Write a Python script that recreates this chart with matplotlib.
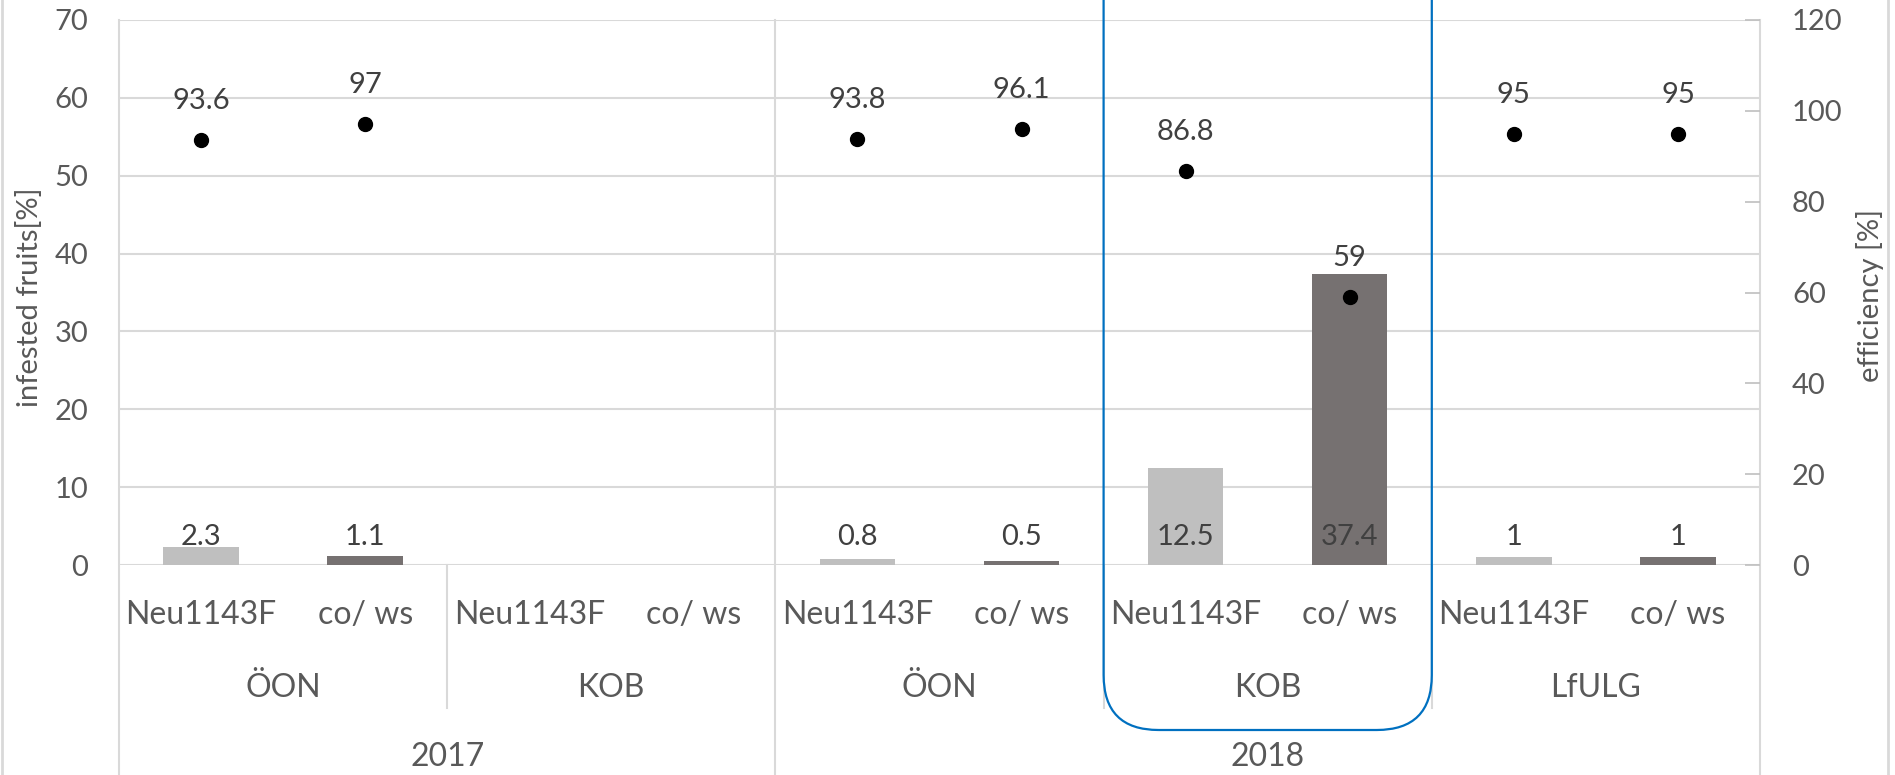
import numpy as np
import matplotlib
matplotlib.use("Agg")
import matplotlib.pyplot as plt
from matplotlib.patches import FancyBboxPatch
from matplotlib.lines import Line2D

plt.rcParams['font.family'] = ['Lato', 'DejaVu Sans']

# data
treatments = ['Neu1143F', 'co/ ws'] * 5
sites = ['ÖON', 'KOB', 'ÖON', 'KOB', 'LfULG']
years = ['2017', '2018']
site_year = [0, 0, 1, 1, 1]            # which year each site block belongs to
infested = [2.3, 1.1, np.nan, np.nan, 0.8, 0.5, 12.5, 37.4, 1, 1]
efficiency = [93.6, 97, np.nan, np.nan, 93.8, 96.1, 86.8, 59, 95, 95]

light = '#BFBFBF'
dark = '#767171'
txt = '#595959'
lbl = '#404040'
grid = '#D9D9D9'

W, H = 1895, 775
fig = plt.figure(figsize=(W / 100, H / 100), dpi=100)
ax = fig.add_axes([119 / W, 1 - 565 / H, (1760 - 119) / W, (565 - 20) / H])
ax2 = ax.twinx()

x = np.arange(len(treatments))
cols = [light if i % 2 == 0 else dark for i in range(len(x))]
vals = np.nan_to_num(infested)
ax.bar(x, vals, width=0.46, color=cols, zorder=2)
ax.set_xlim(-0.5, len(x) - 0.5)
ax.set_ylim(0, 70)
ax.set_yticks(range(0, 71, 10))
ax.yaxis.grid(True, color=grid, lw=1.5, zorder=0)
ax.set_axisbelow(True)
ax.set_xticks([])
for s in ax.spines.values():
    s.set_visible(False)
ax.tick_params(axis='y', length=0, labelsize=21, labelcolor=txt, pad=22)

for xi, v in zip(x, infested):
    if not np.isnan(v):
        ax.annotate(f'{v:g}', (xi, 0), xytext=(0, 28), textcoords='offset pixels',
                    ha='center', va='center', fontsize=21, color=lbl, zorder=4)

ax2.scatter(x, efficiency, s=100, color='black', zorder=5)
ax2.set_ylim(0, 120)
ax2.set_yticks(range(0, 121, 20))
for s in ax2.spines.values():
    s.set_visible(False)
ax2.tick_params(axis='y', direction='in', length=11, width=1.2, color='#BFBFBF',
                labelsize=21, labelcolor=txt, pad=23)
for xi, v in zip(x, efficiency):
    if not np.isnan(v):
        ax2.annotate(f'{v:g}', (xi, v), xytext=(0, 39), textcoords='offset pixels',
                     ha='center', va='center', fontsize=21, color=lbl, zorder=6)

# axis labels
fig.text(30 / W, 1 - 297 / H, 'infested fruits[%]', rotation=90, ha='center', va='center',
         fontsize=21, color=txt)
fig.text(1870 / W, 1 - 295 / H, 'efficiency [%]', rotation=90, ha='center', va='center',
         fontsize=21, color=txt)

# multi-level category axis
tr = ax.get_xaxis_transform()
ah = 545.0
def yf(py):
    return (565 - py) / ah

for xi, t in zip(x, treatments):
    ax.text(xi, yf(615), t, transform=tr, ha='center', va='center', fontsize=23, color=txt)
for i, s in enumerate(sites):
    ax.text(2 * i + 0.5, yf(688), s, transform=tr, ha='center', va='center', fontsize=23, color=txt)
for j, yr in enumerate(years):
    idx = [i for i, k in enumerate(site_year) if k == j]
    xc = (2 * idx[0] + 2 * idx[-1] + 1) / 2
    ax.text(xc, yf(757), yr, transform=tr, ha='center', va='center', fontsize=23, color=txt)

lc = '#D9D9D9'
# separators between sites inside a year, full lines between years
for i in range(1, len(sites)):
    xb = 2 * i - 0.5
    if site_year[i] != site_year[i - 1]:
        ax.add_line(Line2D([xb, xb], [1, yf(775)], transform=tr, color=lc, lw=1.5, clip_on=False, zorder=1))
    else:
        ax.add_line(Line2D([xb, xb], [0, yf(708)], transform=tr, color=lc, lw=1.5, clip_on=False, zorder=1))
for xb in [-0.5, len(x) - 0.5]:
    ax.add_line(Line2D([xb, xb], [1, yf(775)], transform=tr, color=lc, lw=1.5, clip_on=False, zorder=1))

# outer chart border (cropped)
fig.add_artist(Line2D([1.5 / W, 1.5 / W], [0, 1], color=lc, lw=2))
fig.add_artist(Line2D([1888 / W, 1888 / W], [0, 1], color=lc, lw=2))

# blue rounded highlight round KOB 2018
x0 = ax.transData.transform((5.5, 0))[0]
x1 = ax.transData.transform((7.5, 0))[0]
yb = H - 730
box = FancyBboxPatch((x0, yb), x1 - x0, 900, boxstyle='round,pad=0,rounding_size=55',
                     transform=None, fill=False, edgecolor='#0070C0', lw=1.6, clip_on=False, zorder=10)
fig.add_artist(box)

fig.savefig('out.png', dpi=100)
